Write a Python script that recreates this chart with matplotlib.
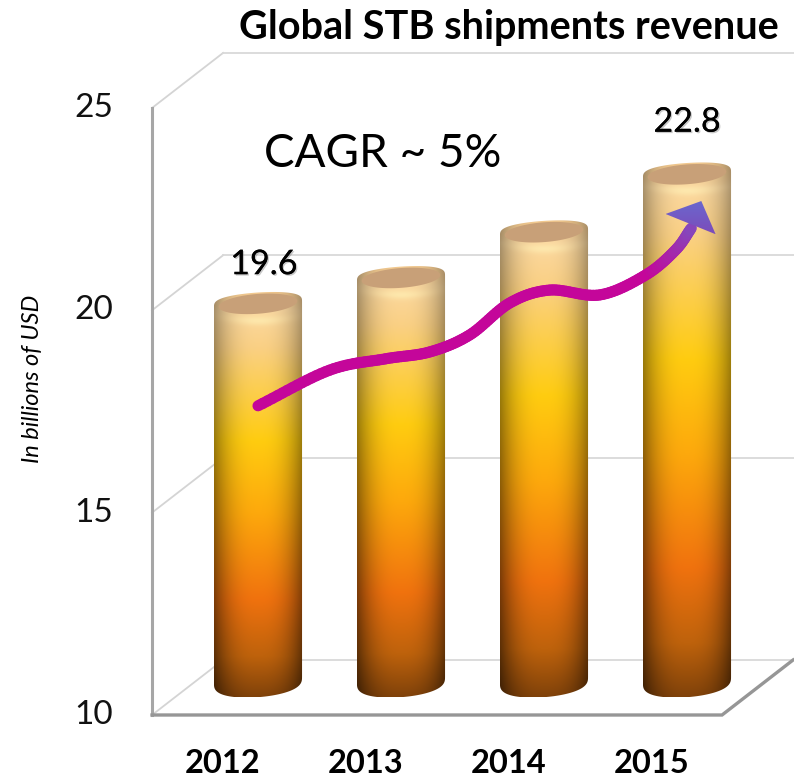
import numpy as np
import matplotlib
matplotlib.use('Agg')
import matplotlib.pyplot as plt
import matplotlib.patheffects as pe
from matplotlib.collections import LineCollection
from matplotlib.colors import to_rgb
from matplotlib.patches import Polygon

plt.rcParams['font.family'] = ['Lato', 'DejaVu Sans']

# Data ==============================================================
years = ['2012', '2013', '2014', '2015']
revenue = [19.6, 20.24, 21.37, 22.8]
bar_labels = ['19.6', '', '', '22.8']
y_ticks = [10, 15, 20, 25]

# trend arrow, x in category position, y in axis value
trend_x = [0, 0.50, 0.89, 1.20, 1.48, 1.76, 2.04, 2.39, 2.71, 2.92, 3.03]
trend_y = [17.64, 18.52, 18.80, 18.97, 19.39, 20.18, 20.50, 20.38, 20.87, 21.49, 22.03]
head_x = [2.85, 3.10, 3.20]
head_y = [22.38, 22.70, 21.88]

# Layout ============================================================
px_x = 143.0    # pixels per category
px_y = 40.47    # pixels per unit of value
depth_x = 0.497
depth_y = 1.36
wall_x = -0.741
floor_end = 3.245
bar_hw = 0.308
bar_base = 10.44
bar_lift = 0.54  # bars stand half way into the depth of the box

stops = [0, 0.05, 0.14, 0.37, 0.55, 0.76, 0.90, 1]
stop_colors = ['#F0C68C', '#FBD8A0', '#FAD084', '#FFCC10', '#FDA80C', '#F0720E', '#BE620C', '#80420A']
stop_rgb = np.array([to_rgb(c) for c in stop_colors])

fig = plt.figure(figsize=(7.94, 7.77), dpi=100)
ax = fig.add_axes([0, 0, 1, 1])
ax.axis('off')
x0, x1 = -258 / px_x, (794 - 258) / px_x
y0, y1 = 10 - 62 / px_y, 10 + 715 / px_y


def cylinder(x, top):
    # outline of one bar: tilted top arc and squarer bottom arc
    t = np.linspace(0, np.pi, 80)
    xa = x + bar_hw * np.cos(t)
    ya = top + 0.30 * np.sin(t) ** 0.6 + 0.07 * np.cos(t)
    xb = x + bar_hw * np.cos(t)
    yb = bar_base + 0.42 - 0.42 * np.sin(t) ** 0.7 + 0.08 * np.cos(t)
    return np.r_[xa, xb[::-1]], np.r_[ya, yb[::-1]]


# walls and floor ===================================================
for v in y_ticks:
    ax.plot([wall_x, wall_x + depth_x], [v, v + depth_y], color='#D4D4D4', lw=1.3, zorder=1)
    ax.plot([wall_x + depth_x, x1], [v + depth_y, v + depth_y], color='#D9D9D9', lw=1.3, zorder=1)
    ax.text(wall_x - 0.27, v, str(v), ha='right', va='center', fontsize=24, color='#111111')
ax.plot([wall_x, wall_x], [10, 25], color='#A6A6A6', lw=2.2, zorder=2)
ax.plot([wall_x, floor_end, floor_end + depth_x], [10, 10, 10 + depth_y], color='#969696', lw=2.4,
        solid_joinstyle='miter', zorder=2)

# bars ==============================================================
for i, val in enumerate(revenue):
    top = val + bar_lift
    u = np.linspace(-1, 1, 120)
    v = np.linspace(0, 1, 500)
    uu, vv = np.meshgrid(u, v)
    rgb = np.dstack([np.interp(vv, stops, stop_rgb[:, c]) for c in range(3)])

    # darker towards the sides, stronger at the foot of the bar
    shade = 1 - (0.32 + 0.22 * vv) * np.abs(uu) ** 2.6
    rgb = rgb * shade[..., None]

    # highlight under the lid
    height = top + 0.35 - bar_base
    dist = height * vv - 0.35 - 0.28 - 0.12 * (1 - uu ** 2)
    glow = np.exp(-(dist / 0.11) ** 2) * np.exp(-(uu / 0.55) ** 2) * 0.6
    rgb = rgb + (np.array([1.0, 0.95, 0.72]) - rgb) * glow[..., None]
    rgb = np.clip(rgb, 0, 1)

    im = ax.imshow(rgb, extent=[i - bar_hw, i + bar_hw, bar_base, top + 0.35], origin='upper',
                   aspect='auto', zorder=3, interpolation='bilinear')
    xs, ys = cylinder(i, top)
    clip = Polygon(np.c_[xs, ys], closed=True, transform=ax.transData, fc='none', ec='none')
    ax.add_patch(clip)
    im.set_clip_path(clip)

    t = np.linspace(0, 2 * np.pi, 100)
    lid_x = i + 0.275 * np.cos(t)
    lid_y = top + 0.02 + 0.245 * np.sin(t) + 0.07 * np.cos(t)
    ax.add_patch(Polygon(np.c_[lid_x, lid_y], closed=True, fc='#C8A078', ec='none', zorder=4))

# trend arrow =======================================================
tx = np.array(trend_x)
ty = np.array(trend_y)
px = np.r_[2 * tx[0] - tx[1], tx, 2 * tx[-1] - tx[-2]]
py = np.r_[2 * ty[0] - ty[1], ty, 2 * ty[-1] - ty[-2]]
cx, cy = [], []
for k in range(1, len(px) - 2):
    for s in np.linspace(0, 1, 16):
        # catmull-rom, only to round off the hand drawn arrow
        for out, p in ((cx, px), (cy, py)):
            out.append(0.5 * (2 * p[k] + (p[k + 1] - p[k - 1]) * s
                              + (2 * p[k - 1] - 5 * p[k] + 4 * p[k + 1] - p[k + 2]) * s ** 2
                              + (3 * p[k] - p[k - 1] - 3 * p[k + 1] + p[k + 2]) * s ** 3))
cx = np.array(cx)
cy = np.array(cy)
seg = np.stack([np.c_[cx[:-1], cy[:-1]], np.c_[cx[1:], cy[1:]]], axis=1)
mix = np.clip((cy[:-1] - 20.9) / (22.5 - 20.9), 0, 1)[:, None]
seg_colors = (1 - mix) * np.array(to_rgb('#C4069A')) + mix * np.array(to_rgb('#6C62CA'))
ax.add_collection(LineCollection(seg, colors=seg_colors, linewidths=8, capstyle='round', zorder=5))

grad = np.linspace(0, 1, 60)[:, None, None]
head_img = (1 - grad) * np.array(to_rgb('#6A68CE')) + grad * np.array(to_rgb('#7C4CBA'))
im = ax.imshow(head_img, extent=[min(head_x), max(head_x), min(head_y), max(head_y)], origin='upper',
               aspect='auto', zorder=6)
head = Polygon(np.c_[head_x, head_y], closed=True, transform=ax.transData, fc='none', ec='none')
ax.add_patch(head)
im.set_clip_path(head)

# text ==============================================================
shadow = [pe.withSimplePatchShadow(offset=(1, -1), shadow_rgbFace='#777777', alpha=0.4), pe.Normal()]
for i, lab in enumerate(bar_labels):
    if lab:
        t = ax.text(i + 0.04 * (i == 0), revenue[i] + (1.54 if i == 0 else 1.86), lab, ha='center',
                    va='center', fontsize=24.5, color='black', zorder=7)
        t.set_path_effects(shadow)
for i, year in enumerate(years):
    ax.text(i - 0.245, 8.80, year, ha='center', va='center', fontsize=23.5, fontweight='bold', color='black')

ax.text(0.87, 23.85, 'CAGR ~ 5%', ha='center', va='center', fontsize=33, color='black')
ax.text(1.755, 26.99, 'Global STB shipments revenue', ha='center', va='center', fontsize=28.5,
        fontweight='bold', color='black')
ax.text(-1.575, 18.3, 'In billions of USD', rotation=90, ha='center', va='center', fontsize=17,
        style='italic', color='black')

ax.set_xlim(x0, x1)
ax.set_ylim(y0, y1)

fig.savefig('out.png', dpi=100)
